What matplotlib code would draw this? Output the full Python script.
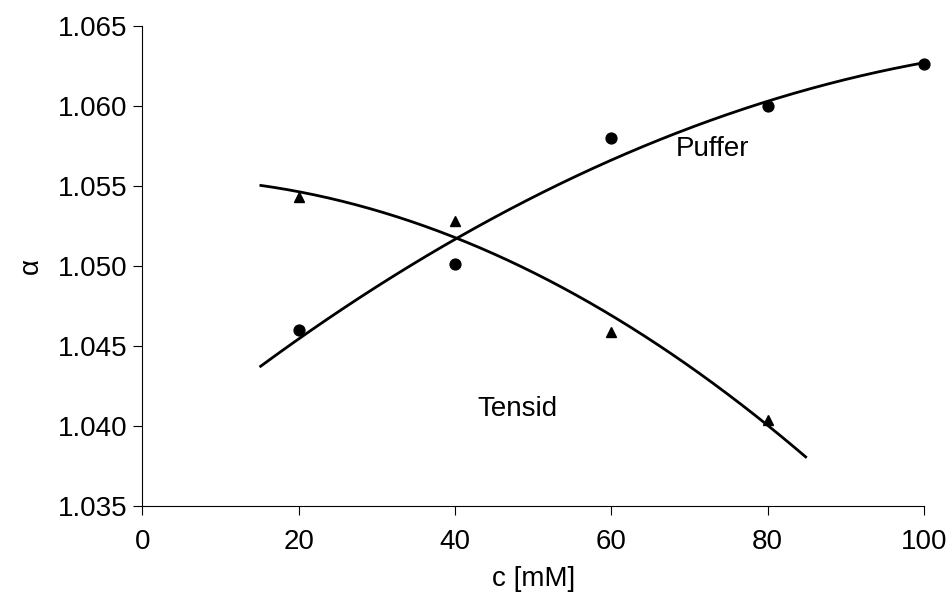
import numpy as np
import matplotlib
matplotlib.use("Agg")
import matplotlib.pyplot as plt

plt.rcParams['font.family'] = ['Liberation Sans', 'DejaVu Sans']

# Measured separation factor vs. concentration
puffer_c = [20, 40, 60, 80, 100]
puffer_alpha = [1.0460, 1.0501, 1.0580, 1.0600, 1.0626]

tensid_c = [20, 40, 60, 80]
tensid_alpha = [1.0543, 1.0528, 1.0459, 1.0404]

# Range covered by the quadratic trend lines
puffer_fit_range = (15, 100)
tensid_fit_range = (15, 85)

x_ticks = [0, 20, 40, 60, 80, 100]
y_ticks = [1.035, 1.040, 1.045, 1.050, 1.055, 1.060, 1.065]

FS = 20

fig = plt.figure(figsize=(9.51, 6.09), dpi=100)
ax = fig.add_axes([0.1496, 0.1685, 0.8220, 0.7893])

for cx, cy, rng in [(puffer_c, puffer_alpha, puffer_fit_range),
                    (tensid_c, tensid_alpha, tensid_fit_range)]:
    coef = np.polyfit(cx, cy, 2)
    xs = np.linspace(rng[0], rng[1], 200)
    ax.plot(xs, np.polyval(coef, xs), color='black', lw=2.0, solid_capstyle='butt')

ax.plot(puffer_c, puffer_alpha, 'o', color='black', ms=7.8, clip_on=False, zorder=3)
ax.plot(tensid_c, tensid_alpha, '^', color='black', ms=7.0, clip_on=False, zorder=3)

ax.text(73.0, 1.0573, 'Puffer', fontsize=FS, ha='center', va='center')
ax.text(48.0, 1.0411, 'Tensid', fontsize=FS, ha='center', va='center')

ax.set_xlim(0, 100)
ax.set_ylim(1.035, 1.065)
ax.set_xticks(x_ticks)
ax.set_xticklabels([str(v) for v in x_ticks])
ax.set_yticks(y_ticks)
ax.set_yticklabels([f'{v:.3f}' for v in y_ticks])

for side in ('top', 'right'):
    ax.spines[side].set_visible(False)
for side in ('left', 'bottom'):
    ax.spines[side].set_linewidth(0.8)
    ax.spines[side].set_color('black')

ax.tick_params(axis='both', direction='out', length=6.5, width=0.8,
               labelsize=FS, colors='black')
ax.tick_params(axis='y', pad=4)
ax.tick_params(axis='x', pad=10)

ax.set_xlabel('c [mM]', fontsize=FS, labelpad=8)
ax.set_ylabel('α', fontsize=FS, labelpad=10)

fig.savefig('out.png', dpi=100, facecolor='white')
